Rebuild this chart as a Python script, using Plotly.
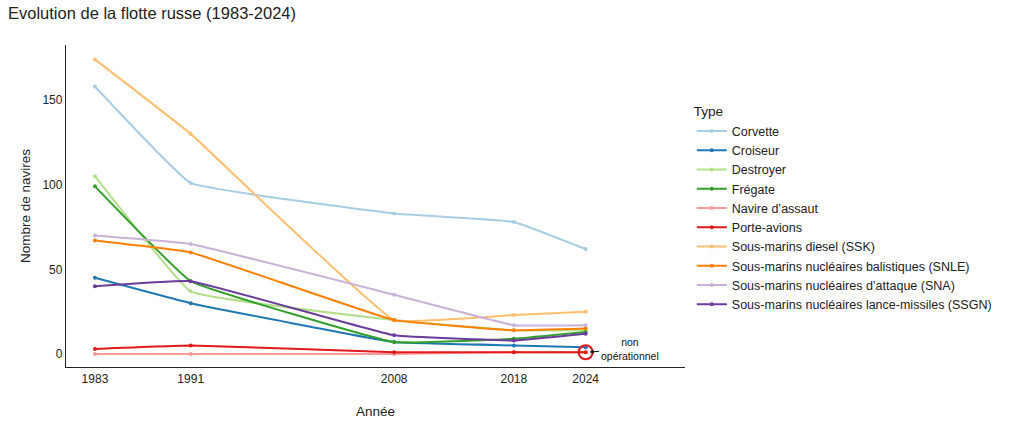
import plotly.graph_objects as go

years = [1983, 1991, 2008, 2018, 2024]

types = [
    "Corvette",
    "Croiseur",
    "Destroyer",
    "Frégate",
    "Navire d’assaut",
    "Porte-avions",
    "Sous-marins diesel (SSK)",
    "Sous-marins nucléaires balistiques (SNLE)",
    "Sous-marins nucléaires d’attaque (SNA)",
    "Sous-marins nucléaires lance-missiles (SSGN)",
]

corvette = [158, 101, 83, 78, 62]
croiseur = [45, 30, 7, 5, 4]
destroyer = [105, 37, 20, 14, 14]
fregate = [99, 43, 7, 9, 13]
navire_assaut = [0, 0, 0, 1, 1]
porte_avions = [3, 5, 1, 1, 1]
ssk = [174, 130, 20, 23, 25]
snle = [67, 60, 20, 14, 15]
sna = [70, 65, 35, 17, 17]
ssgn = [40, 43, 11, 8, 12]

series = [corvette, croiseur, destroyer, fregate, navire_assaut,
          porte_avions, ssk, snle, sna, ssgn]

colors = ["#A6CEE3", "#1F78B4", "#B2DF8A", "#33A02C", "#FB9A99",
          "#E31A1C", "#FDBF6F", "#FF7F00", "#CAB2D6", "#6A3D9A"]

x_ticks = [1983, 1991, 2008, 2018, 2024]
y_ticks = [0, 50, 100, 150]

note_year = 2024
note_value = porte_avions[-1]
note_text = "non<br>opérationnel"

fig = go.Figure()
for name, vals, col in zip(types, series, colors):
    fig.add_trace(go.Scatter(
        x=years, y=vals, name=name, mode="lines+markers",
        line=dict(color=col, width=2, shape="spline", smoothing=0.25),
        marker=dict(color=col, size=4),
    ))

# red circle highlighting the non-operational carrier
fig.add_trace(go.Scatter(
    x=[note_year], y=[note_value], mode="markers", showlegend=False,
    hoverinfo="skip",
    marker=dict(symbol="circle-open", size=14, color="#E31A1C",
                line=dict(width=2.2, color="#E31A1C")),
))

fig.add_annotation(
    x=note_year, y=note_value, text=note_text, showarrow=True,
    ax=44, ay=-3, arrowhead=2, arrowsize=0.8, arrowwidth=1,
    arrowcolor="#111", standoff=4,
    font=dict(size=10.5, color="#111", family="Liberation Sans"),
    align="center",
)

fig.update_layout(
    width=1024, height=431,
    paper_bgcolor="white", plot_bgcolor="white",
    margin=dict(l=66, r=339, t=45, b=64),
    font=dict(family="Liberation Sans", size=12, color="#333"),
    title=dict(text="Evolution de la flotte russe (1983-2024)",
               x=0, xanchor="left", y=0.97, yanchor="middle",
               pad=dict(l=8, t=0, r=0, b=0),
               font=dict(size=16.5, color="#222")),
    legend=dict(
        title=dict(text="Type", font=dict(size=13.5, color="#222")),
        x=1.011, xanchor="left", y=0.833, yanchor="top",
        font=dict(size=12.5, color="#222"),
        bgcolor="rgba(0,0,0,0)", itemwidth=30,
    ),
    xaxis=dict(
        range=[1980.58, 2032.3], tickvals=x_ticks,
        ticktext=[str(v) for v in x_ticks],
        showgrid=False, zeroline=False, showline=True,
        linecolor="#222", linewidth=1.3, automargin=False,
        tickfont=dict(size=12, color="#222"), ticks="",
        title=dict(text="Année", font=dict(size=13.5, color="#222"),
                   standoff=22),
    ),
    yaxis=dict(
        range=[-7.7, 182.5], tickvals=y_ticks,
        showgrid=False, zeroline=False, showline=True,
        linecolor="#222", linewidth=1.3, automargin=False,
        tickfont=dict(size=12, color="#222"), ticks="",
        title=dict(text="Nombre de navires",
                   font=dict(size=13.5, color="#222"), standoff=8),
    ),
)

fig.write_html(
    "out.html",
    config={"displayModeBar": False},
    post_script="document.body.style.margin='0';document.body.style.overflow='hidden';",
)
